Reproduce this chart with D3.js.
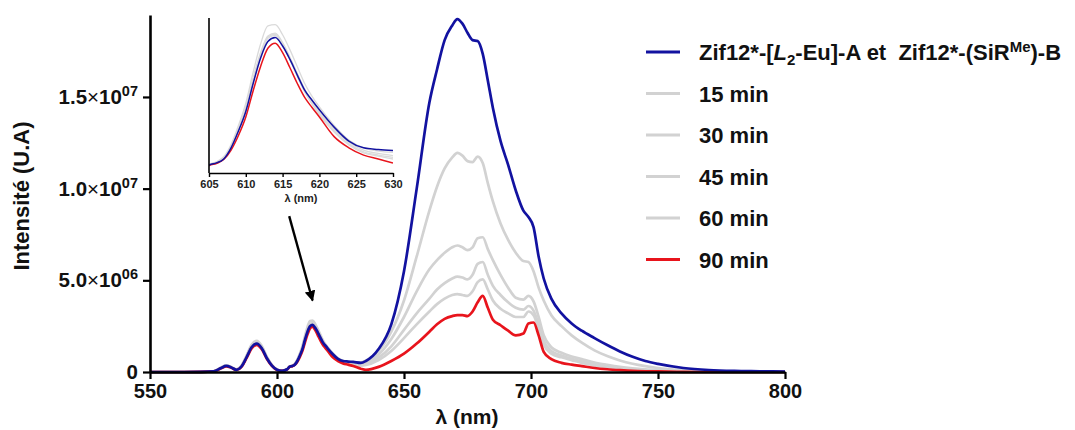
<!DOCTYPE html>
<html>
<head>
<meta charset="utf-8">
<script src="https://cdn.jsdelivr.net/npm/d3@7"></script>
<style>
  html, body { margin: 0; padding: 0; background: #fff; }
  svg { display: block; font-family: "Liberation Sans", Arial, sans-serif; font-weight: bold; }
</style>
</head>
<body>
<svg id="chart" width="1075" height="430"></svg>
<script>
// ---------- DATA (intensities in units of 1e6 U.A) ----------
const wavelengths = [550,560,570,575,578,580,582,584,586,588,590,592,594,596,598,600,602,604,605,606,607,608,609,610,611,612,613,614,615,616,617,618,619,620,622,624,626,628,630,633,635,640,645,650,655,660,663,666,669,671,673,675,677,679,681,683,685,688,691,694,697,699,701,703,705,708,712,716,720,725,730,735,740,745,750,760,770,780,790,800];

const blueRef = [0,0,0.01,0.03,0.22,0.33,0.25,0.12,0.3,0.8,1.35,1.55,1.3,0.75,0.35,0.12,0.06,0.15,0.29,0.33,0.4,0.6,0.9,1.25,1.75,2.2,2.5,2.57,2.42,2.18,1.9,1.63,1.45,1.28,0.97,0.72,0.6,0.57,0.55,0.5,0.6,1.25,2.6,5.5,10.0,14.7,16.5,18.1,18.9,19.25,19.0,18.5,18.1,18.05,17.35,15.9,14.4,12.6,11.3,9.9,8.8,8.45,7.9,6.3,5.1,4.0,3.2,2.65,2.25,1.85,1.47,1.12,0.83,0.6,0.44,0.22,0.11,0.06,0.04,0.02];

const min15 = [0,0,0.01,0.04,0.25,0.36,0.27,0.14,0.34,0.88,1.48,1.7,1.42,0.82,0.38,0.13,0.07,0.16,0.3,0.35,0.44,0.66,1.0,1.4,1.95,2.45,2.78,2.8,2.62,2.35,2.05,1.75,1.52,1.33,1.0,0.74,0.6,0.54,0.52,0.52,0.62,1.15,2.2,3.9,6.3,8.8,10.1,11.1,11.7,11.95,11.8,11.5,11.45,11.75,11.4,10.3,9.3,8.1,7.2,6.5,6.05,6.0,5.5,4.6,3.9,3.1,2.5,2.0,1.6,1.18,0.87,0.63,0.45,0.32,0.22,0.11,0.05,0.03,0.02,0.01];

const min30 = [0,0,0.01,0.03,0.24,0.35,0.26,0.13,0.32,0.85,1.43,1.64,1.37,0.8,0.37,0.13,0.07,0.15,0.29,0.34,0.42,0.63,0.95,1.33,1.85,2.3,2.6,2.65,2.48,2.22,1.93,1.65,1.43,1.24,0.93,0.7,0.56,0.5,0.46,0.44,0.5,0.95,1.8,3.0,4.4,5.6,6.1,6.5,6.8,6.9,6.8,6.65,6.8,7.3,7.35,6.7,6.1,5.3,4.6,4.05,3.95,4.15,3.85,3.0,2.0,1.35,1.05,0.85,0.7,0.52,0.39,0.28,0.2,0.14,0.1,0.05,0.03,0.02,0.01,0.01];

const min45 = [0,0,0.01,0.03,0.23,0.34,0.26,0.13,0.31,0.84,1.41,1.62,1.35,0.79,0.36,0.12,0.07,0.15,0.29,0.33,0.41,0.62,0.93,1.3,1.82,2.27,2.58,2.63,2.46,2.2,1.9,1.62,1.4,1.21,0.9,0.67,0.53,0.47,0.43,0.4,0.44,0.78,1.4,2.3,3.2,4.0,4.5,4.85,5.1,5.2,5.15,5.05,5.3,5.9,6.0,5.3,4.7,4.2,3.8,3.5,3.4,3.6,3.35,2.6,1.7,1.15,0.9,0.72,0.58,0.42,0.3,0.22,0.15,0.1,0.07,0.04,0.02,0.01,0.01,0];

const min60 = [0,0,0.01,0.03,0.23,0.34,0.25,0.12,0.31,0.83,1.4,1.6,1.34,0.78,0.36,0.12,0.07,0.15,0.29,0.33,0.41,0.61,0.92,1.28,1.8,2.25,2.56,2.61,2.44,2.17,1.87,1.6,1.38,1.19,0.88,0.65,0.51,0.45,0.4,0.35,0.38,0.65,1.15,1.85,2.6,3.3,3.7,4.0,4.2,4.25,4.2,4.15,4.4,4.9,5.05,4.5,3.9,3.45,3.2,3.0,3.0,3.3,3.1,2.4,1.5,1.0,0.8,0.65,0.5,0.36,0.26,0.18,0.12,0.08,0.06,0.03,0.02,0.01,0,0];

const min90 = [0,0,0.01,0.03,0.2,0.31,0.23,0.11,0.28,0.76,1.28,1.48,1.24,0.72,0.33,0.11,0.06,0.14,0.28,0.32,0.39,0.56,0.82,1.15,1.62,2.05,2.38,2.47,2.3,2.03,1.75,1.5,1.32,1.15,0.8,0.6,0.47,0.4,0.33,0.18,0.12,0.28,0.6,1.0,1.55,2.2,2.6,2.9,3.05,3.1,3.1,3.05,3.3,3.8,4.15,3.5,2.85,2.55,2.25,2.0,2.1,2.65,2.7,2.0,1.1,0.7,0.5,0.4,0.32,0.22,0.15,0.1,0.06,0.04,0.03,0.01,0,0,0,0];

const seriesLabels = ["ref", "15 min", "30 min", "45 min", "60 min", "90 min"];
const xTickValues = [550, 600, 650, 700, 750, 800];
const yTickValues = [0, 5e6, 1e7, 1.5e7];
const insetTickValues = [605, 610, 615, 620, 625, 630];
const arrowFrom = [604.8, 8.5e6];
const arrowTo = [614, 3.9e6];

// ---------- STYLE ----------
const BLUE = "#1212a0", RED = "#e8141c", GRAY = "#d2d2d2", INSET_GRAY = "#dadada";
const series = [
  { label: "15 min", values: min15, color: GRAY },
  { label: "30 min", values: min30, color: GRAY },
  { label: "45 min", values: min45, color: GRAY },
  { label: "60 min", values: min60, color: GRAY },
  { label: "90 min", values: min90, color: RED },
  { label: "ref", values: blueRef, color: BLUE }
];

const svg = d3.select("#chart");

// ---------- MAIN SCALES ----------
const x = d3.scaleLinear().domain([550, 800]).range([150, 785]);
const y = d3.scaleLinear().domain([0, 19.47e6]).range([372, 15]);

const line = d3.line()
  .x((d, i) => x(wavelengths[i]))
  .y(d => y(d * 1e6))
  .curve(d3.curveMonotoneX);

const main = svg.append("g");
series.forEach(s => {
  main.append("path")
    .datum(s.values)
    .attr("fill", "none")
    .attr("stroke", s.color)
    .attr("stroke-width", 2.7)
    .attr("stroke-linejoin", "round")
    .attr("d", line);
});

// axes
const xAxis = svg.append("g")
  .attr("transform", "translate(0,372)")
  .call(d3.axisBottom(x).tickValues(xTickValues).tickSize(7).tickPadding(5).tickSizeOuter(0));
xAxis.select(".domain").attr("stroke", "#000").attr("stroke-width", 2.6);
xAxis.selectAll(".tick line").attr("stroke", "#000").attr("stroke-width", 2.2);
xAxis.selectAll(".tick text").attr("font-size", 20).attr("fill", "#111")
  .attr("font-family", "Liberation Sans, Arial, sans-serif").attr("font-weight", "bold");

const yAxis = svg.append("g")
  .attr("transform", "translate(150,0)")
  .call(d3.axisLeft(y).tickValues(yTickValues).tickSize(7).tickPadding(5).tickSizeOuter(0).tickFormat(() => ""));
yAxis.select(".domain").attr("stroke", "#000").attr("stroke-width", 2.6);
yAxis.selectAll(".tick line").attr("stroke", "#000").attr("stroke-width", 2.2);
yAxis.selectAll(".tick text").each(function(d) {
  const t = d3.select(this)
    .attr("font-size", 20.5).attr("fill", "#111")
    .attr("font-family", "Liberation Sans, Arial, sans-serif").attr("font-weight", "bold");
  if (d === 0) { t.text("0"); return; }
  const e = Math.floor(Math.log10(d));
  const m = d / Math.pow(10, e);
  t.append("tspan").text(m.toFixed(1));
  t.append("tspan").attr("font-weight", "normal").text("\u00D7");
  t.append("tspan").text("10");
  t.append("tspan").attr("font-size", 14.5).attr("dy", -8).text(String(e).padStart(2, "0"));
});

// axis titles
svg.append("text")
  .attr("x", 467).attr("y", 424)
  .attr("text-anchor", "middle")
  .attr("font-size", 21).attr("fill", "#111")
  .text("\u03BB (nm)");
svg.append("text")
  .attr("transform", "translate(29,196) rotate(-90)")
  .attr("text-anchor", "middle")
  .attr("font-size", 22).attr("fill", "#111")
  .text("Intensit\u00E9 (U.A)");

// ---------- ARROW ----------
const defs = svg.append("defs");
defs.append("marker")
  .attr("id", "arrowhead")
  .attr("viewBox", "0 0 10 10")
  .attr("refX", 9).attr("refY", 5)
  .attr("markerWidth", 4.5).attr("markerHeight", 4.5)
  .attr("markerUnits", "strokeWidth")
  .attr("orient", "auto")
  .append("path").attr("d", "M0,0 L10,5 L0,10 Z").attr("fill", "#000");
svg.append("line")
  .attr("x1", x(arrowFrom[0])).attr("y1", y(arrowFrom[1]))
  .attr("x2", x(arrowTo[0])).attr("y2", y(arrowTo[1]))
  .attr("stroke", "#000").attr("stroke-width", 2.4)
  .attr("marker-end", "url(#arrowhead)");

// ---------- INSET ----------
const xi = d3.scaleLinear().domain([605, 630]).range([209, 393]);
const yi = d3.scaleLinear().domain([0.15e6, 2.92e6]).range([173, 18]);
defs.append("clipPath").attr("id", "insetClip")
  .append("rect").attr("x", 209).attr("y", 10).attr("width", 184).attr("height", 163);

const lineInset = d3.line()
  .defined((d, i) => wavelengths[i] >= 603 && wavelengths[i] <= 632)
  .x((d, i) => xi(wavelengths[i]))
  .y(d => yi(d * 1e6))
  .curve(d3.curveMonotoneX);

const inset = svg.append("g").attr("clip-path", "url(#insetClip)");
series.forEach(s => {
  inset.append("path")
    .datum(s.values)
    .attr("fill", "none")
    .attr("stroke", s.color === GRAY ? INSET_GRAY : s.color)
    .attr("stroke-width", s.color === GRAY ? 1.3 : 1.5)
    .attr("d", lineInset);
});

const xiAxis = svg.append("g")
  .attr("transform", "translate(0,173)")
  .call(d3.axisBottom(xi).tickValues(insetTickValues).tickSize(4).tickPadding(3).tickSizeOuter(0));
xiAxis.select(".domain").attr("stroke", "#000").attr("stroke-width", 1.6);
xiAxis.selectAll(".tick line").attr("stroke", "#000").attr("stroke-width", 1.4);
xiAxis.selectAll(".tick text").attr("font-size", 11).attr("fill", "#222")
  .attr("font-family", "Liberation Sans, Arial, sans-serif").attr("font-weight", "bold");
svg.append("line")
  .attr("x1", 209).attr("x2", 209).attr("y1", 18).attr("y2", 173)
  .attr("stroke", "#000").attr("stroke-width", 1.6);
svg.append("text")
  .attr("x", 301).attr("y", 202)
  .attr("text-anchor", "middle")
  .attr("font-size", 11).attr("fill", "#222")
  .text("\u03BB (nm)");

// ---------- LEGEND ----------
const legendRows = [
  { color: BLUE, key: "ref" },
  { color: GRAY, key: "15 min" },
  { color: GRAY, key: "30 min" },
  { color: GRAY, key: "45 min" },
  { color: GRAY, key: "60 min" },
  { color: RED, key: "90 min" }
];
const legendY = d3.scalePoint().domain(seriesLabels).range([52, 259.5]);
const legend = svg.append("g");
legendRows.forEach(r => {
  const yy = legendY(r.key);
  legend.append("line")
    .attr("x1", 646).attr("x2", 680).attr("y1", yy).attr("y2", yy)
    .attr("stroke", r.color).attr("stroke-width", 3);
  const t = legend.append("text")
    .attr("x", 699).attr("y", yy + 8)
    .attr("font-size", 22).attr("fill", "#111");
  if (r.key === "ref") {
    t.append("tspan").text("Zif12*-[");
    t.append("tspan").attr("font-style", "italic").text("L");
    t.append("tspan").attr("font-size", 15).attr("dy", 5).text("2");
    t.append("tspan").attr("dy", -5).text("-Eu]-A et\u00A0\u00A0Zif12*-(SiR");
    t.append("tspan").attr("font-size", 15).attr("dy", -8).text("Me");
    t.append("tspan").attr("dy", 8).text(")-B");
  } else {
    t.text(r.key);
  }
});
</script>
</body>
</html>
